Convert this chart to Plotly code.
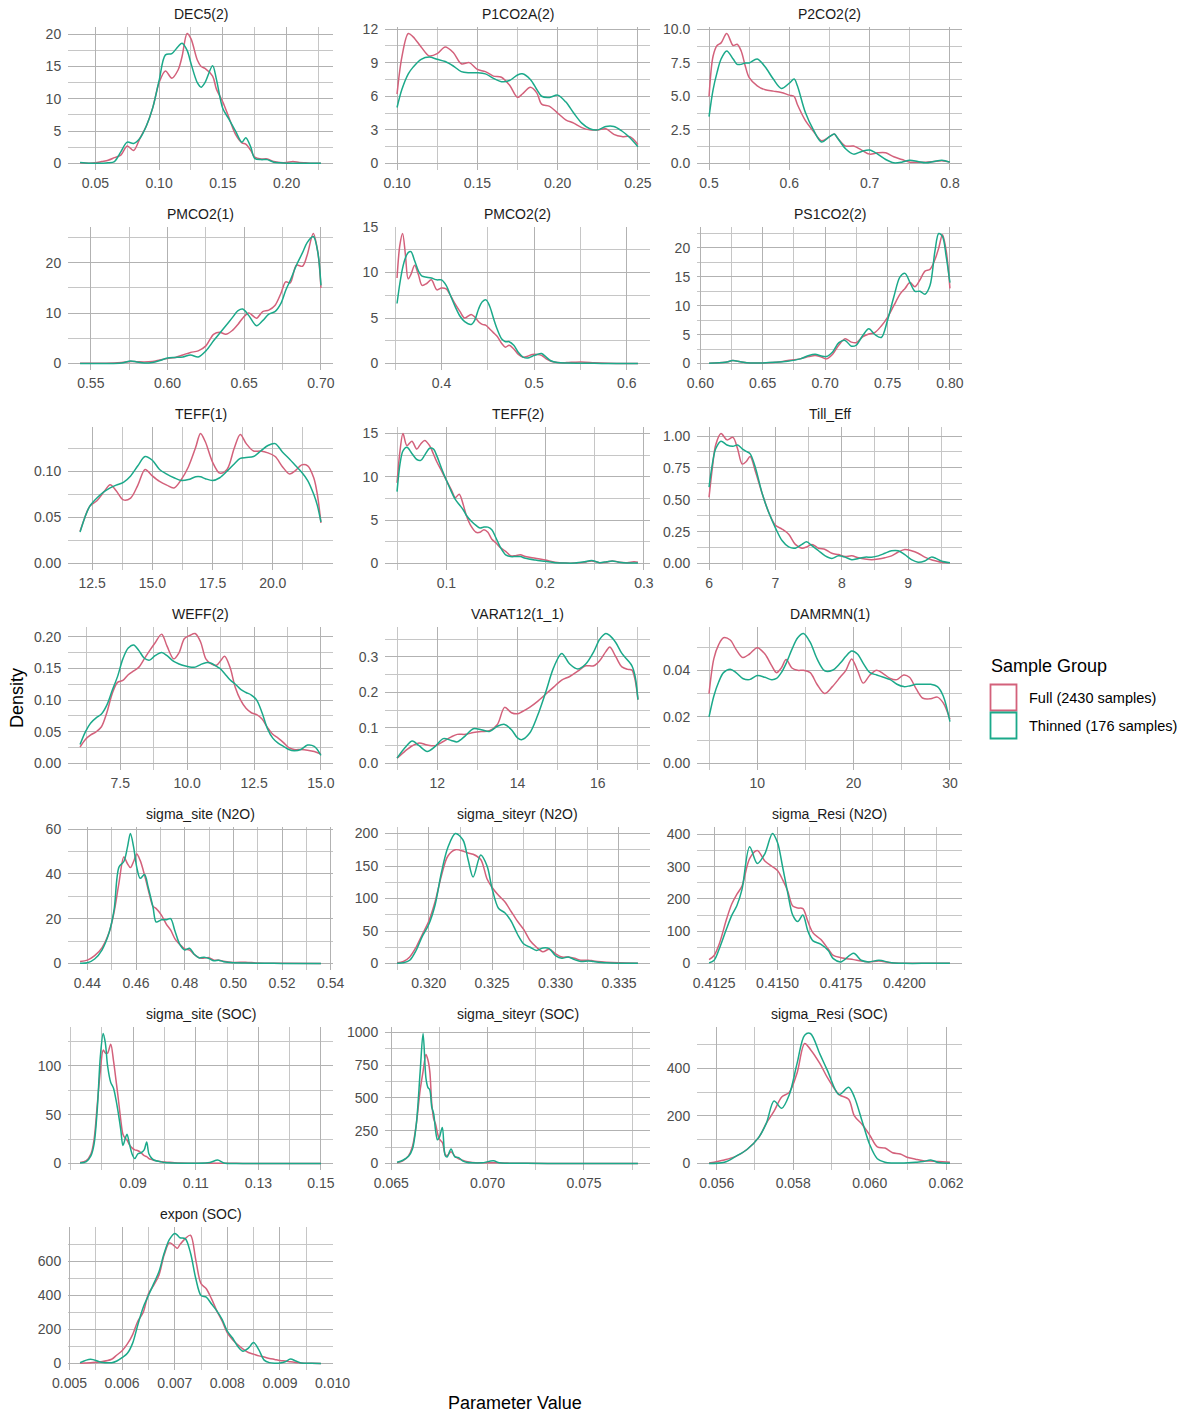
import plotly.graph_objects as go

# ---------------------------------------------------------------- data
TITLES = ["DEC5(2)", "P1CO2A(2)", "P2CO2(2)", "PMCO2(1)", "PMCO2(2)", "PS1CO2(2)",
          "TEFF(1)", "TEFF(2)", "Till_Eff", "WEFF(2)", "VARAT12(1_1)", "DAMRMN(1)",
          "sigma_site (N2O)", "sigma_siteyr (N2O)", "sigma_Resi (N2O)",
          "sigma_site (SOC)", "sigma_siteyr (SOC)", "sigma_Resi (SOC)", "expon (SOC)"]
GROUPS = ["Full (2430 samples)", "Thinned (176 samples)"]

DEC5_X = [0.038, 0.045, 0.05, 0.055, 0.06, 0.065, 0.07, 0.075, 0.08, 0.085, 0.09, 0.095, 0.10, 0.105,
          0.11, 0.115, 0.118, 0.122, 0.125, 0.13, 0.133, 0.136, 0.142, 0.145, 0.15, 0.155, 0.16, 0.165,
          0.168, 0.172, 0.175, 0.18, 0.185, 0.19, 0.195, 0.20, 0.205, 0.21, 0.215, 0.22, 0.227]
DEC5_FULL = [0.1, 0.05, 0.1, 0.3, 0.5, 0.9, 1.3, 2.7, 2.0, 3.9, 5.8, 8.6, 12.5, 14.3, 13.2, 14.5, 16.5,
             20.1, 19.3, 16.0, 15.0, 14.7, 13.5, 11.5, 9.5, 7.0, 4.5, 3.2, 3.0, 2.0, 1.0, 0.7, 0.7, 0.3,
             0.15, 0.15, 0.3, 0.15, 0.1, 0.05, 0.03]
DEC5_THIN = [0.15, 0.05, 0.02, 0.05, 0.1, 0.3, 1.8, 3.3, 3.1, 3.9, 5.8, 8.6, 12.8, 16.8, 17.0, 18.1, 18.6,
             17.5, 15.5, 12.5, 11.8, 12.5, 15.1, 13.0, 8.5, 6.8, 5.0, 3.3, 4.0, 2.5, 0.8, 0.6, 0.6, 0.2,
             0.1, 0.05, 0.05, 0.03, 0.03, 0.03, 0.03]

P1CO2A_X = [0.10, 0.103, 0.107, 0.11, 0.115, 0.12, 0.125, 0.13, 0.135, 0.14, 0.145, 0.15, 0.155, 0.16,
            0.165, 0.17, 0.175, 0.178, 0.183, 0.187, 0.19, 0.195, 0.20, 0.205, 0.21, 0.215, 0.22, 0.225,
            0.23, 0.235, 0.24, 0.245, 0.25]
P1CO2A_FULL = [6.2, 9.5, 11.6, 11.3, 10.4, 9.6, 9.8, 10.4, 9.9, 8.9, 9.0, 8.4, 8.2, 7.8, 7.7, 7.0, 5.9,
               6.2, 6.8, 6.3, 5.3, 5.1, 4.5, 3.9, 3.6, 3.2, 3.0, 3.0, 3.1, 2.6, 2.4, 2.4, 1.7]
P1CO2A_THIN = [5.0, 6.6, 8.0, 8.6, 9.3, 9.5, 9.3, 9.1, 8.7, 8.2, 8.1, 8.1, 8.0, 7.6, 7.3, 7.4, 7.9, 8.0,
               7.5, 6.6, 6.0, 5.9, 6.1, 5.5, 4.5, 3.6, 3.1, 3.0, 3.3, 3.3, 2.9, 2.3, 1.5]

P2CO2_X = [0.50, 0.505, 0.51, 0.515, 0.522, 0.53, 0.535, 0.54, 0.545, 0.55, 0.56, 0.57, 0.58, 0.59, 0.60,
           0.606, 0.61, 0.62, 0.63, 0.64, 0.65, 0.656, 0.66, 0.67, 0.68, 0.69, 0.70, 0.71, 0.72, 0.73,
           0.74, 0.75, 0.76, 0.77, 0.78, 0.79, 0.80]
P2CO2_FULL = [5.0, 8.0, 8.8, 9.0, 9.7, 8.8, 8.9, 8.4, 7.3, 6.4, 5.8, 5.5, 5.4, 5.3, 5.1, 5.0, 4.4, 3.2,
              2.4, 1.7, 2.0, 2.2, 1.9, 1.3, 1.3, 1.0, 0.7, 0.8, 0.8, 0.5, 0.3, 0.1, 0.1, 0.1, 0.15, 0.2, 0.1]
P2CO2_THIN = [3.5, 5.5, 6.8, 7.8, 8.4, 7.8, 7.4, 7.4, 7.5, 7.5, 7.8, 7.2, 6.3, 5.6, 6.0, 6.3, 5.8, 3.8,
              2.5, 1.6, 2.0, 2.2, 1.9, 1.1, 0.7, 0.9, 1.0, 0.7, 0.3, 0.05, 0.1, 0.25, 0.15, 0.05, 0.15,
              0.25, 0.1]

PMCO21_X = [0.543, 0.55, 0.56, 0.57, 0.576, 0.58, 0.585, 0.59, 0.595, 0.60, 0.605, 0.61, 0.615, 0.62,
            0.625, 0.63, 0.634, 0.638, 0.642, 0.646, 0.649, 0.653, 0.658, 0.662, 0.666, 0.67, 0.674,
            0.677, 0.68, 0.684, 0.688, 0.691, 0.695, 0.698, 0.70]
PMCO21_FULL = [0.05, 0.05, 0.05, 0.2, 0.4, 0.35, 0.3, 0.4, 0.7, 1.0, 1.2, 1.7, 2.2, 2.5, 3.5, 5.8, 6.2,
               5.8, 6.5, 7.8, 9.0, 10.0, 9.0, 10.3, 10.6, 11.5, 14.0, 16.2, 16.0, 19.5, 19.3, 21.5, 25.8,
               22.0, 15.0]
PMCO21_THIN = [0.0, 0.0, 0.0, 0.1, 0.5, 0.3, 0.1, 0.2, 0.6, 1.1, 1.2, 1.3, 1.7, 1.3, 2.5, 4.5, 6.0, 7.5,
               9.0, 10.5, 10.8, 9.5, 7.5, 8.5, 9.8, 10.3, 12.0, 14.5, 16.5, 19.5, 22.0, 24.0, 25.2, 22.0,
               15.5]

PMCO22_X = [0.352, 0.355, 0.358, 0.361, 0.364, 0.367, 0.371, 0.375, 0.379, 0.384, 0.389, 0.395, 0.40,
            0.405, 0.41, 0.415, 0.42, 0.425, 0.432, 0.436, 0.44, 0.444, 0.448, 0.452, 0.456, 0.46,
            0.465, 0.469, 0.473, 0.478, 0.483, 0.488, 0.493, 0.498, 0.503, 0.508, 0.513, 0.518, 0.525,
            0.535, 0.545, 0.555, 0.565, 0.58, 0.595, 0.612]
PMCO22_FULL = [9.4, 13.0, 14.3, 12.0, 9.3, 9.8, 10.8, 9.8, 8.6, 8.8, 9.2, 8.1, 8.3, 8.2, 7.4, 6.5, 5.7,
               5.0, 5.4, 5.1, 4.6, 4.3, 4.2, 3.8, 3.4, 3.0, 2.2, 1.8, 2.0, 1.6, 1.0, 0.7, 0.8, 1.0, 1.0,
               0.9, 0.5, 0.25, 0.1, 0.1, 0.15, 0.15, 0.08, 0.03, 0.01, 0.0]
PMCO22_THIN = [6.6, 8.8, 10.5, 11.6, 12.2, 12.3, 11.3, 10.2, 9.6, 9.5, 9.4, 9.2, 9.2, 8.6, 7.4, 6.2, 5.2,
               4.6, 4.3, 4.8, 6.0, 6.8, 7.0, 6.3, 5.0, 3.8, 2.7, 2.4, 2.4, 2.0, 1.2, 0.7, 0.6, 0.8, 1.0,
               1.1, 0.7, 0.3, 0.1, 0.05, 0.03, 0.03, 0.02, 0.01, 0.01, 0.0]

PS1CO2_X = [0.607, 0.62, 0.626, 0.632, 0.64, 0.65, 0.66, 0.67, 0.68, 0.687, 0.692, 0.697, 0.701, 0.706,
            0.711, 0.716, 0.721, 0.725, 0.73, 0.735, 0.74, 0.745, 0.75, 0.755, 0.76, 0.764, 0.768, 0.772,
            0.776, 0.78, 0.784, 0.788, 0.791, 0.794, 0.797, 0.80]
PS1CO2_FULL = [0.05, 0.2, 0.5, 0.3, 0.1, 0.1, 0.2, 0.5, 0.8, 1.2, 1.4, 1.1, 0.8, 1.6, 3.2, 4.3, 3.7, 3.6,
               4.6, 5.1, 5.4, 6.5, 8.0, 10.0, 12.0, 13.0, 14.0, 13.3, 14.5, 16.0, 16.3, 18.0, 20.0, 22.3,
               19.5, 13.0]
PS1CO2_THIN = [0.05, 0.2, 0.5, 0.3, 0.1, 0.1, 0.2, 0.4, 0.8, 1.4, 1.6, 1.3, 1.2, 2.0, 3.6, 4.0, 3.0, 3.2,
               4.8, 6.0, 5.0, 4.5, 7.5, 11.5, 15.0, 15.6, 14.0, 12.5, 12.5, 12.0, 13.5, 19.5, 22.5, 22.0,
               18.5, 14.0]

TEFF1_X = [12.0, 12.2, 12.4, 12.7, 13.0, 13.25, 13.5, 13.8, 14.1, 14.4, 14.7, 15.0, 15.3, 15.6, 15.9,
           16.2, 16.5, 16.8, 17.0, 17.2, 17.5, 17.8, 18.1, 18.4, 18.65, 18.9, 19.2, 19.5, 19.8, 20.1,
           20.4, 20.7, 20.95, 21.2, 21.45, 21.7, 21.85, 22.0]
TEFF1_FULL = [0.035, 0.05, 0.062, 0.068, 0.078, 0.0855, 0.079, 0.069, 0.071, 0.085, 0.102, 0.095, 0.089,
              0.085, 0.082, 0.091, 0.105, 0.126, 0.141, 0.132, 0.11, 0.098, 0.102, 0.125, 0.14, 0.13,
              0.122, 0.122, 0.12, 0.116, 0.105, 0.097, 0.101, 0.107, 0.106, 0.093, 0.075, 0.044]
TEFF1_THIN = [0.034, 0.05, 0.062, 0.071, 0.078, 0.082, 0.085, 0.088, 0.095, 0.106, 0.116, 0.112, 0.102,
              0.097, 0.093, 0.09, 0.091, 0.094, 0.094, 0.092, 0.09, 0.093, 0.1, 0.108, 0.114, 0.115,
              0.116, 0.122, 0.128, 0.13, 0.121, 0.113, 0.106, 0.099, 0.09, 0.075, 0.063, 0.045]

TEFF2_X = [0.05, 0.053, 0.056, 0.06, 0.065, 0.07, 0.074, 0.078, 0.083, 0.087, 0.09, 0.095, 0.10, 0.105,
           0.109, 0.113, 0.117, 0.12, 0.125, 0.13, 0.134, 0.138, 0.142, 0.146, 0.15, 0.155, 0.16, 0.165,
           0.17, 0.175, 0.18, 0.19, 0.20, 0.21, 0.22, 0.23, 0.24, 0.247, 0.255, 0.262, 0.268, 0.275,
           0.283, 0.29, 0.294]
TEFF2_FULL = [9.3, 13.0, 15.0, 13.6, 14.1, 13.2, 13.8, 14.2, 13.6, 12.6, 11.8, 10.7, 9.6, 8.5, 7.6, 8.0,
              6.8, 5.6, 4.3, 3.6, 3.6, 3.9, 3.6, 2.8, 2.4, 1.8, 1.4, 0.9, 0.9, 1.0, 0.8, 0.6, 0.4, 0.15,
              0.05, 0.05, 0.15, 0.3, 0.1, 0.15, 0.3, 0.15, 0.1, 0.2, 0.15]
TEFF2_THIN = [8.3, 11.5, 13.0, 13.4, 12.7, 12.0, 11.9, 12.5, 13.3, 13.2, 12.5, 11.0, 9.6, 8.3, 7.4, 6.8,
              6.2, 5.6, 4.9, 4.4, 4.1, 4.2, 4.2, 3.9, 3.0, 1.8, 1.0, 0.8, 0.8, 0.8, 0.6, 0.4, 0.25, 0.1,
              0.05, 0.05, 0.2, 0.35, 0.1, 0.2, 0.3, 0.15, 0.05, 0.05, 0.05]

TILL_X = [6.0, 6.05, 6.1, 6.18, 6.27, 6.36, 6.43, 6.5, 6.56, 6.62, 6.7, 6.8, 6.9, 7.0, 7.1, 7.2, 7.3, 7.4,
          7.47, 7.55, 7.65, 7.75, 7.85, 7.95, 8.05, 8.15, 8.25, 8.35, 8.45, 8.55, 8.65, 8.75, 8.85, 8.95,
          9.05, 9.15, 9.25, 9.35, 9.42, 9.5, 9.63]
TILL_FULL = [0.52, 0.75, 0.93, 1.02, 0.97, 0.99, 0.9, 0.78, 0.8, 0.84, 0.72, 0.55, 0.4, 0.3, 0.27, 0.23,
             0.15, 0.12, 0.13, 0.15, 0.12, 0.11, 0.08, 0.07, 0.055, 0.06, 0.045, 0.035, 0.03, 0.035,
             0.045, 0.06, 0.09, 0.11, 0.1, 0.08, 0.05, 0.03, 0.02, 0.01, 0.005]
TILL_THIN = [0.6, 0.78, 0.9, 0.96, 0.93, 0.92, 0.93, 0.9, 0.88, 0.86, 0.75, 0.55, 0.4, 0.28, 0.18, 0.13,
             0.12, 0.15, 0.17, 0.14, 0.1, 0.06, 0.04, 0.06, 0.05, 0.03, 0.04, 0.05, 0.05, 0.06, 0.08,
             0.1, 0.1, 0.07, 0.03, 0.01, 0.02, 0.05, 0.04, 0.02, 0.005]

WEFF_X = [6.0, 6.2, 6.4, 6.6, 6.8, 7.0, 7.2, 7.4, 7.6, 7.8, 8.0, 8.2, 8.4, 8.6, 8.8, 9.05, 9.25, 9.5, 9.7,
          9.9, 10.1, 10.3, 10.5, 10.7, 10.9, 11.1, 11.25, 11.4, 11.6, 11.8, 12.0, 12.2, 12.4, 12.6,
          12.8, 13.0, 13.2, 13.4, 13.6, 13.8, 14.0, 14.25, 14.5, 14.75, 15.0]
WEFF_FULL = [0.026, 0.038, 0.045, 0.05, 0.058, 0.08, 0.11, 0.128, 0.131, 0.14, 0.146, 0.152, 0.165, 0.178,
             0.19, 0.204, 0.185, 0.165, 0.175, 0.197, 0.202, 0.205, 0.192, 0.165, 0.157, 0.155, 0.162,
             0.169, 0.152, 0.12, 0.1, 0.087, 0.08, 0.077, 0.07, 0.057, 0.046, 0.04, 0.033, 0.025, 0.022,
             0.022, 0.021, 0.019, 0.015]
WEFF_THIN = [0.03, 0.05, 0.064, 0.072, 0.078, 0.092, 0.115, 0.137, 0.165, 0.182, 0.187, 0.178, 0.166,
             0.163, 0.17, 0.175, 0.17, 0.161, 0.157, 0.154, 0.152, 0.152, 0.156, 0.159, 0.158, 0.153,
             0.149, 0.142, 0.132, 0.125, 0.117, 0.112, 0.108, 0.1, 0.08, 0.055, 0.04, 0.032, 0.027,
             0.022, 0.02, 0.022, 0.029, 0.027, 0.013]

VARAT_X = [11.0, 11.2, 11.38, 11.55, 11.75, 11.95, 12.15, 12.35, 12.5, 12.7, 12.9, 13.1, 13.3, 13.5,
           13.68, 13.85, 14.0, 14.1, 14.3, 14.5, 14.7, 14.9, 15.1, 15.3, 15.5, 15.7, 15.9, 16.05, 16.2,
           16.3, 16.45, 16.6, 16.75, 16.85, 16.93, 17.0]
VARAT_FULL = [0.015, 0.035, 0.05, 0.058, 0.052, 0.05, 0.062, 0.075, 0.082, 0.082, 0.087, 0.09, 0.092,
              0.11, 0.158, 0.143, 0.14, 0.145, 0.158, 0.175, 0.195, 0.215, 0.235, 0.245, 0.26, 0.275,
              0.275, 0.29, 0.315, 0.328, 0.3, 0.272, 0.265, 0.263, 0.235, 0.18]
VARAT_THIN = [0.015, 0.045, 0.063, 0.05, 0.034, 0.048, 0.07, 0.065, 0.061, 0.078, 0.098, 0.095, 0.09,
              0.105, 0.11, 0.095, 0.072, 0.067, 0.085, 0.135, 0.2, 0.27, 0.31, 0.28, 0.266, 0.28, 0.315,
              0.35, 0.366, 0.36, 0.34, 0.31, 0.29, 0.275, 0.245, 0.18]

DAMRMN_X = [5.0, 5.5, 6.0, 6.5, 7.2, 7.8, 8.5, 9.2, 10.0, 10.8, 11.5, 12.0, 12.5, 13.0, 13.6, 14.2, 14.8,
            15.5, 16.2, 17.0, 17.8, 18.6, 19.2, 19.8, 20.4, 21.0, 21.7, 22.4, 23.1, 23.8, 24.5, 25.2,
            25.8, 26.5, 27.2, 28.0, 28.7, 29.3, 30.0]
DAMRMN_FULL = [0.03, 0.045, 0.051, 0.054, 0.053, 0.049, 0.0455, 0.047, 0.0497, 0.047, 0.042, 0.039,
               0.041, 0.0446, 0.041, 0.040, 0.040, 0.039, 0.034, 0.030, 0.033, 0.037, 0.040, 0.0449,
               0.040, 0.0345, 0.038, 0.040, 0.0385, 0.0365, 0.036, 0.038, 0.037, 0.032, 0.028, 0.0278,
               0.0285, 0.026, 0.019]
DAMRMN_THIN = [0.02, 0.029, 0.035, 0.039, 0.0405, 0.039, 0.0365, 0.036, 0.0378, 0.037, 0.036, 0.0365,
               0.039, 0.043, 0.049, 0.054, 0.0558, 0.052, 0.045, 0.0398, 0.040, 0.043, 0.046, 0.0483,
               0.047, 0.043, 0.039, 0.038, 0.037, 0.036, 0.034, 0.033, 0.0333, 0.034, 0.034, 0.034,
               0.033, 0.029, 0.018]

SSITE_N2O_X = [0.437, 0.44, 0.443, 0.446, 0.449, 0.451, 0.453, 0.455, 0.4565, 0.4577, 0.459, 0.4603,
               0.4617, 0.4635, 0.465, 0.467, 0.4683, 0.4705, 0.4725, 0.4742, 0.476, 0.478, 0.48, 0.482,
               0.484, 0.486, 0.488, 0.49, 0.492, 0.494, 0.496, 0.50, 0.505, 0.51, 0.52, 0.536]
SSITE_N2O_FULL = [0.9, 1.5, 3.5, 7.0, 14.0, 23.0, 36.0, 47.5, 44.5, 42.8, 45.5, 48.8, 46.0, 39.5, 33.0,
                  25.5, 24.5, 21.5, 17.5, 15.0, 11.0, 8.5, 6.5, 6.0, 4.0, 2.5, 2.4, 2.6, 1.5, 1.5, 1.0,
                  0.5, 0.6, 0.2, 0.1, 0.05]
SSITE_N2O_THIN = [0.1, 0.3, 2.0, 6.0, 14.0, 24.0, 43.0, 45.5, 52.0, 58.0, 52.0, 43.0, 38.0, 39.7, 34.0,
                  25.0, 18.5, 19.5, 19.5, 20.0, 14.5, 8.5, 6.0, 6.8, 4.0, 2.5, 2.8, 2.2, 1.2, 1.5, 0.8,
                  0.3, 0.2, 0.1, 0.05, 0.02]

SSITEYR_N2O_X = [0.3175, 0.318, 0.3185, 0.319, 0.3195, 0.320, 0.3205, 0.321, 0.3215, 0.3221, 0.3227,
                 0.3231, 0.3235, 0.3241, 0.3246, 0.325, 0.3255, 0.326, 0.3265, 0.327, 0.3275, 0.328,
                 0.3285, 0.329, 0.3295, 0.330, 0.3305, 0.331, 0.3315, 0.332, 0.3326, 0.333, 0.334, 0.335,
                 0.3365]
SSITEYR_N2O_FULL = [1, 3, 10, 25, 45, 65, 95, 135, 165, 175, 173, 170, 168, 160, 130, 117, 105, 95, 80,
                    65, 52, 35, 25, 18, 22, 15, 10, 10, 8, 5, 5, 4, 2, 1, 0.5]
SSITEYR_N2O_THIN = [0.5, 1, 5, 20, 42, 60, 90, 140, 178, 200, 190, 160, 133, 167, 150, 115, 85, 78, 65,
                    45, 30, 25, 20, 24, 23, 12, 8, 10, 6, 3, 4, 3, 1, 0.5, 0.3]

SRESI_N2O_X = [0.4123, 0.4125, 0.4127, 0.413, 0.4132, 0.4134, 0.4136, 0.4139, 0.4142, 0.4145, 0.4148,
               0.415, 0.4152, 0.4154, 0.4156, 0.4158, 0.416, 0.4162, 0.4164, 0.4167, 0.417, 0.4172,
               0.4175, 0.418, 0.4183, 0.4186, 0.419, 0.4195, 0.420, 0.421, 0.4218]
SRESI_N2O_FULL = [12, 25, 60, 140, 185, 215, 240, 325, 350, 318, 300, 288, 260, 225, 178, 172, 170, 130,
                  95, 75, 45, 25, 18, 12, 8, 5, 8, 2, 1, 0.5, 0.5]
SRESI_N2O_THIN = [2, 10, 45, 110, 150, 180, 230, 362, 310, 340, 403, 375, 300, 220, 150, 130, 150, 100,
                  70, 60, 40, 15, 5, 32, 10, 5, 10, 2, 0.5, 0.5, 0.5]

SSITE_SOC_X = [0.073, 0.075, 0.0765, 0.0775, 0.0785, 0.0795, 0.0804, 0.0811, 0.0818, 0.0828, 0.0837,
               0.0845, 0.0852, 0.086, 0.0867, 0.0874, 0.088, 0.0888, 0.0896, 0.0905, 0.0915, 0.0925,
               0.0935, 0.0943, 0.095, 0.096, 0.097, 0.0985, 0.10, 0.1025, 0.105, 0.11, 0.1145, 0.117,
               0.119, 0.125, 0.135, 0.15]
SSITE_SOC_FULL = [1, 3, 10, 25, 60, 95, 116, 113, 113, 122, 105, 85, 67, 45, 30, 26, 24, 19, 16, 14, 13,
                  11, 8, 7, 5, 4, 3, 2, 1.5, 1.0, 0.5, 0.3, 0.2, 0.2, 0.2, 0.1, 0.05, 0.05]
SSITE_SOC_THIN = [0.5, 2, 8, 20, 55, 110, 133, 123, 100, 83, 77, 65, 52, 35, 18.5, 25, 30, 20, 10, 5, 10,
                  11, 14, 22, 10, 5, 3, 2, 1, 0.5, 0.3, 0.2, 1, 3.5, 0.5, 0.1, 0.05, 0.05]

SSITEYR_SOC_X = [0.0653, 0.0656, 0.0659, 0.0661, 0.0663, 0.0665, 0.06665, 0.0668, 0.0669, 0.0670,
                 0.0671, 0.0672, 0.0673, 0.0674, 0.0675, 0.06765, 0.0678, 0.0679, 0.0681, 0.0683,
                 0.0685, 0.0687, 0.0689, 0.0692, 0.0697, 0.0703, 0.0706, 0.071, 0.072, 0.074, 0.076,
                 0.0778]
SSITEYR_SOC_FULL = [5, 20, 60, 130, 300, 560, 700, 830, 790, 700, 460, 340, 300, 230, 185, 160, 70, 60,
                    90, 55, 35, 25, 15, 8, 5, 5, 5, 3, 1, 0.5, 0.3, 0.2]
SSITEYR_SOC_THIN = [10, 25, 55, 110, 300, 700, 990, 650, 580, 560, 430, 380, 250, 180, 200, 275, 60, 50,
                    110, 50, 45, 20, 10, 5, 5, 20, 5, 2, 1, 0.5, 0.3, 0.3]

SRESI_SOC_X = [0.0558, 0.0562, 0.0565, 0.0568, 0.0571, 0.0573, 0.0575, 0.0577, 0.0579, 0.0581, 0.0583,
               0.05845, 0.0587, 0.0589, 0.0592, 0.05945, 0.0596, 0.0598, 0.06, 0.0602, 0.0604, 0.0606,
               0.0608, 0.061, 0.0612, 0.0614, 0.0616, 0.0618, 0.0621]
SRESI_SOC_FULL = [2, 15, 30, 60, 110, 170, 220, 280, 300, 380, 505, 480, 420, 360, 290, 270, 200, 165,
                  120, 70, 65, 45, 40, 25, 18, 12, 10, 8, 5]
SRESI_SOC_THIN = [0, 5, 30, 60, 110, 170, 263, 232, 290, 420, 540, 547, 460, 390, 290, 321, 280, 180, 80,
                  20, 5, 2, 2, 3, 5, 8, 15, 4, 1]

EXPON_X = [0.0052, 0.0054, 0.0056, 0.0058, 0.0059, 0.006, 0.0061, 0.0062, 0.0063, 0.0064, 0.0065,
           0.0066, 0.0067, 0.0068, 0.0069, 0.007, 0.00705, 0.0071, 0.0072, 0.0073, 0.0074, 0.0075,
           0.0076, 0.0077, 0.0078, 0.0079, 0.008, 0.0081, 0.0082, 0.0083, 0.0084, 0.0085, 0.0086,
           0.0087, 0.0088, 0.0089, 0.009, 0.0091, 0.0092, 0.0093, 0.0094, 0.0096, 0.00978]
EXPON_FULL = [2, 5, 10, 25, 50, 75, 115, 170, 250, 300, 410, 460, 520, 640, 710, 690, 678, 700, 735, 755,
              610, 470, 440, 380, 310, 250, 180, 140, 110, 85, 65, 55, 45, 38, 30, 24, 18, 15, 10, 6, 3,
              1, 0.5]
EXPON_THIN = [5, 25, 8, 5, 15, 35, 60, 120, 230, 330, 400, 470, 540, 650, 730, 765, 755, 740, 735, 650,
              500, 400, 390, 350, 310, 260, 190, 150, 100, 72, 90, 123, 80, 20, 5, 2, 3, 10, 26, 15, 3,
              1, 0.5]

# tick values and labels per panel
XTICKS = [[0.05, 0.10, 0.15, 0.20], [0.10, 0.15, 0.20, 0.25], [0.5, 0.6, 0.7, 0.8],
          [0.55, 0.60, 0.65, 0.70], [0.4, 0.5, 0.6], [0.60, 0.65, 0.70, 0.75, 0.80],
          [12.5, 15.0, 17.5, 20.0], [0.1, 0.2, 0.3], [6, 7, 8, 9],
          [7.5, 10.0, 12.5, 15.0], [12, 14, 16], [10, 20, 30],
          [0.44, 0.46, 0.48, 0.50, 0.52, 0.54], [0.320, 0.325, 0.330, 0.335],
          [0.4125, 0.4150, 0.4175, 0.4200], [0.09, 0.11, 0.13, 0.15], [0.065, 0.070, 0.075],
          [0.056, 0.058, 0.060, 0.062], [0.005, 0.006, 0.007, 0.008, 0.009, 0.010]]
XLABELS = [["0.05", "0.10", "0.15", "0.20"], ["0.10", "0.15", "0.20", "0.25"], ["0.5", "0.6", "0.7", "0.8"],
           ["0.55", "0.60", "0.65", "0.70"], ["0.4", "0.5", "0.6"], ["0.60", "0.65", "0.70", "0.75", "0.80"],
           ["12.5", "15.0", "17.5", "20.0"], ["0.1", "0.2", "0.3"], ["6", "7", "8", "9"],
           ["7.5", "10.0", "12.5", "15.0"], ["12", "14", "16"], ["10", "20", "30"],
           ["0.44", "0.46", "0.48", "0.50", "0.52", "0.54"], ["0.320", "0.325", "0.330", "0.335"],
           ["0.4125", "0.4150", "0.4175", "0.4200"], ["0.09", "0.11", "0.13", "0.15"],
           ["0.065", "0.070", "0.075"], ["0.056", "0.058", "0.060", "0.062"],
           ["0.005", "0.006", "0.007", "0.008", "0.009", "0.010"]]
YTICKS = [[0, 5, 10, 15, 20], [0, 3, 6, 9, 12], [0, 2.5, 5, 7.5, 10], [0, 10, 20], [0, 5, 10, 15],
          [0, 5, 10, 15, 20], [0, 0.05, 0.10], [0, 5, 10, 15], [0, 0.25, 0.5, 0.75, 1.0],
          [0, 0.05, 0.10, 0.15, 0.20], [0, 0.1, 0.2, 0.3], [0, 0.02, 0.04], [0, 20, 40, 60],
          [0, 50, 100, 150, 200], [0, 100, 200, 300, 400], [0, 50, 100], [0, 250, 500, 750, 1000],
          [0, 200, 400], [0, 200, 400, 600]]
YLABELS = [["0", "5", "10", "15", "20"], ["0", "3", "6", "9", "12"], ["0.0", "2.5", "5.0", "7.5", "10.0"],
           ["0", "10", "20"], ["0", "5", "10", "15"], ["0", "5", "10", "15", "20"],
           ["0.00", "0.05", "0.10"], ["0", "5", "10", "15"], ["0.00", "0.25", "0.50", "0.75", "1.00"],
           ["0.00", "0.05", "0.10", "0.15", "0.20"], ["0.0", "0.1", "0.2", "0.3"], ["0.00", "0.02", "0.04"],
           ["0", "20", "40", "60"], ["0", "50", "100", "150", "200"], ["0", "100", "200", "300", "400"],
           ["0", "50", "100"], ["0", "250", "500", "750", "1000"], ["0", "200", "400"],
           ["0", "200", "400", "600"]]

SERIES = [(DEC5_X, DEC5_FULL, DEC5_THIN), (P1CO2A_X, P1CO2A_FULL, P1CO2A_THIN),
          (P2CO2_X, P2CO2_FULL, P2CO2_THIN), (PMCO21_X, PMCO21_FULL, PMCO21_THIN),
          (PMCO22_X, PMCO22_FULL, PMCO22_THIN), (PS1CO2_X, PS1CO2_FULL, PS1CO2_THIN),
          (TEFF1_X, TEFF1_FULL, TEFF1_THIN), (TEFF2_X, TEFF2_FULL, TEFF2_THIN),
          (TILL_X, TILL_FULL, TILL_THIN), (WEFF_X, WEFF_FULL, WEFF_THIN),
          (VARAT_X, VARAT_FULL, VARAT_THIN), (DAMRMN_X, DAMRMN_FULL, DAMRMN_THIN),
          (SSITE_N2O_X, SSITE_N2O_FULL, SSITE_N2O_THIN), (SSITEYR_N2O_X, SSITEYR_N2O_FULL, SSITEYR_N2O_THIN),
          (SRESI_N2O_X, SRESI_N2O_FULL, SRESI_N2O_THIN), (SSITE_SOC_X, SSITE_SOC_FULL, SSITE_SOC_THIN),
          (SSITEYR_SOC_X, SSITEYR_SOC_FULL, SSITEYR_SOC_THIN), (SRESI_SOC_X, SRESI_SOC_FULL, SRESI_SOC_THIN),
          (EXPON_X, EXPON_FULL, EXPON_THIN)]

# ---------------------------------------------------------------- style
W, H = 1183, 1414
RED = "#D3617B"
TEAL = "#1BA98A"
FONT = "Liberation Sans, Arial, Helvetica, sans-serif"
MAJOR = "#b2b2b2"
MINOR = "#c6c6c6"
COLS = [(68, 333), (385, 650), (697, 962)]
TOP0, PH, STEP = 27, 143, 200


def minor_breaks(major, lo, hi):
    d = major[1] - major[0]
    ext = [major[0] - d] + list(major) + [major[-1] + d]
    pts = []
    for a, b in zip(ext[:-1], ext[1:]):
        pts += [a, (a + b) / 2.0, b]
    out = []
    for p in pts:
        if lo <= p <= hi and all(abs(p - m) > d * 1e-6 for m in major) and \
                all(abs(p - q) > d * 1e-6 for q in out):
            out.append(p)
    return out


fig = go.Figure()
layout = {}
annotations = []
for i, (xs, full, thin) in enumerate(SERIES):
    n = i + 1
    r, c = divmod(i, 3)
    xa = "x" if n == 1 else "x%d" % n
    ya = "y" if n == 1 else "y%d" % n
    for ys, col in ((full, RED), (thin, TEAL)):
        fig.add_trace(go.Scatter(x=xs, y=ys, xaxis=xa, yaxis=ya, mode="lines",
                                 line=dict(color=col, width=1.5, shape="spline", smoothing=0.9),
                                 showlegend=False, hoverinfo="skip"))
    x0, x1 = COLS[c]
    top = TOP0 + STEP * r
    bot = top + PH
    xmin, xmax = min(xs), max(xs)
    dx = xmax - xmin
    xr = [xmin - 0.05 * dx, xmax + 0.05 * dx]
    ymax = max(max(full), max(thin))
    yr = [-0.05 * ymax, 1.05 * ymax]
    common = dict(showgrid=True, gridcolor=MAJOR, gridwidth=1.2, zeroline=False, showline=False,
                  ticks="outside", tickcolor="rgba(0,0,0,0)", tickmode="array",
                  automargin=False,
                  tickfont=dict(family=FONT, size=14, color="#4d4d4d"), fixedrange=True)
    layout["xaxis" if n == 1 else "xaxis%d" % n] = dict(
        common, domain=[x0 / W, x1 / W], anchor=ya, range=xr, ticklen=0.5,
        tickvals=XTICKS[i], ticktext=XLABELS[i],
        minor=dict(tickmode="array", tickvals=minor_breaks(XTICKS[i], xr[0], xr[1]),
                   showgrid=True, gridcolor=MINOR, gridwidth=0.9))
    layout["yaxis" if n == 1 else "yaxis%d" % n] = dict(
        common, domain=[1 - bot / H, 1 - top / H], anchor=xa, range=yr, ticklen=3,
        tickvals=YTICKS[i], ticktext=YLABELS[i],
        minor=dict(tickmode="array", tickvals=minor_breaks(YTICKS[i], yr[0], yr[1]),
                   showgrid=True, gridcolor=MINOR, gridwidth=0.9))
    annotations.append(dict(text=TITLES[i], xref="paper", yref="paper",
                            x=(x0 + x1) / 2 / W, y=1 - (14 + STEP * r) / H,
                            xanchor="center", yanchor="middle", showarrow=False,
                            font=dict(family=FONT, size=14, color="#1a1a1a")))

# axis titles
annotations.append(dict(text="Parameter Value", xref="paper", yref="paper", x=515 / W, y=1 - 1403 / H,
                        xanchor="center", yanchor="middle", showarrow=False,
                        font=dict(family=FONT, size=18, color="#000000")))
annotations.append(dict(text="Density", xref="paper", yref="paper", x=17 / W, y=1 - 698 / H,
                        xanchor="center", yanchor="middle", showarrow=False, textangle=-90,
                        font=dict(family=FONT, size=18, color="#000000")))

# legend (drawn manually to mimic the outlined key boxes)
shapes = []
annotations.append(dict(text="Sample Group", xref="paper", yref="paper", x=989 / W, y=1 - 666 / H,
                        xanchor="left", yanchor="middle", showarrow=False,
                        font=dict(family=FONT, size=18, color="#000000")))
for k, (lab, col) in enumerate(zip(GROUPS, (RED, TEAL))):
    ty = 684 + 28 * k
    shapes.append(dict(type="rect", xref="paper", yref="paper", x0=990.5 / W, x1=1016.5 / W,
                       y0=1 - (ty + 26.5) / H, y1=1 - (ty + 0.5) / H,
                       line=dict(color=col, width=1.8), fillcolor="white"))
    annotations.append(dict(text=lab, xref="paper", yref="paper", x=1027 / W, y=1 - (ty + 14) / H,
                            xanchor="left", yanchor="middle", showarrow=False,
                            font=dict(family=FONT, size=14.5, color="#000000")))

fig.update_layout(width=W, height=H, margin=dict(l=0, r=0, t=0, b=0, autoexpand=False),
                  paper_bgcolor="white", plot_bgcolor="white", showlegend=False,
                  annotations=annotations, shapes=shapes, **layout)
fig.write_html("out.html")
